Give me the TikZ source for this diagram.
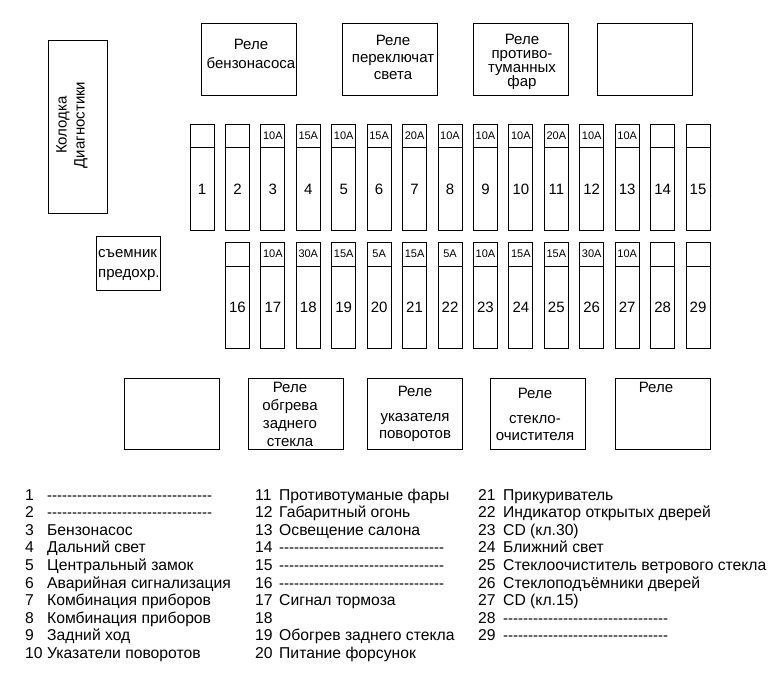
\documentclass[tikz,border=0pt]{standalone}
\usepackage{fontspec}
\setmainfont{Liberation Sans}
\usetikzlibrary{calc}
\newcommand\dashrow{{\fontsize{15}{18}\selectfont\foreach\i in {1,...,33}{-\kern0pt}}}

\tikzset{
  box/.style={draw, line width=1pt, inner sep=0pt},
  fuse/.style={box, minimum width=24pt, minimum height=106pt},
  relay/.style={box, minimum width=95pt, minimum height=71pt},
  txt/.style={inner sep=0pt, align=center, font=\fontsize{15}{18}\selectfont},
  amp/.style={inner sep=0pt, font=\fontsize{11}{13}\selectfont},
  num/.style={inner sep=0pt, font=\fontsize{15}{18}\selectfont},
  leg/.style={anchor=west, inner sep=0pt, text height=11pt, text depth=3pt, font=\fontsize{15.7}{18}\selectfont}
}

\begin{document}
\begin{tikzpicture}[x=1pt, y=-1pt]
			%%%%% START %%%%%
			\useasboundingbox (0,0) rectangle (778,685);
			
			\node[box, minimum width=59pt, minimum height=172pt] (plug) at (77.5,127) {};
			\node[txt, rotate=90] (plugtxt) at (72,125) {Колодка\\Диагностики};
			\node[box, minimum width=64pt, minimum height=54pt] (puller) at (128,263) {};
			\node[txt, align=left, anchor=west, font=\fontsize{15}{20}\selectfont] (pullertxt) at (98,265) {съемник\\предохр.};
			
			\node[relay] (r1) at (249,59.5) {};
			\node[relay] (r2) at (390,59.5) {};
			\node[relay] (r3) at (520.5,59.5) {};
			\node[relay] (r4) at (644.5,59.5) {};
			\node[txt, font=\fontsize{15}{19}\selectfont] (t1) at (251,54) {Реле\\бензонасоса};
			\node[txt, font=\fontsize{15}{17}\selectfont] (t2) at (393,57) {Реле\\переключат\\света};
			\node[txt, font=\fontsize{15}{14}\selectfont] (t3) at (522,62) {Реле\\противо-\\туманных\\фар};
			
			\node[relay] (b1) at (171.5,413.5) {};
			\node[relay] (b2) at (295.5,413.5) {};
			\node[relay] (b3) at (414.5,413.5) {};
			\node[relay] (b4) at (538,413.5) {};
			\node[relay] (b5) at (662.5,413.5) {};
			\node[txt] (t6) at (290,414) {Реле\\обгрева\\заднего\\стекла};
			\node[txt, font=\fontsize{15}{17}\selectfont] (t7) at (415,414) {Реле\\[8pt]указателя\\поворотов};
			\node[txt, font=\fontsize{15}{17}\selectfont] (t8) at (535,414) {Реле\\[8pt]стекло-\\очистителя};
			\node[txt] (t9) at (656,387) {Реле};
			
			%%%%% FUSES %%%%%
			\foreach \n/\a in {1/{},2/{},3/10A,4/15A,5/10A,6/15A,7/20A,8/10A,9/10A,10/10A,11/20A,12/10A,13/10A,14/{},15/{}}{
				\node[fuse] (f\n) at ({202+(\n-1)*35.43},177) {};
				\draw[line width=1pt] ($(f\n.north west)+(0,24)$) -- ($(f\n.north east)+(0,24)$);
				\node[amp] (a\n) at ($(f\n.north)+(0,12)$) {\a};
				\node[num] (n\n) at ($(f\n.center)+(0,12)$) {\n};
			}
			\foreach \n/\a in {16/{},17/10A,18/30A,19/15A,20/5A,21/15A,22/5A,23/10A,24/15A,25/15A,26/30A,27/10A,28/{},29/{}}{
				\node[fuse] (f\n) at ({202+(\n-15)*35.43},295.5) {};
				\draw[line width=1pt] ($(f\n.north west)+(0,24)$) -- ($(f\n.north east)+(0,24)$);
				\node[amp] (a\n) at ($(f\n.north)+(0,12)$) {\a};
				\node[num] (n\n) at ($(f\n.center)+(0,12)$) {\n};
			}
			
			%%%%% LEGEND %%%%%
			\foreach \k/\t [count=\r from 0] in {1/\dashrow,2/\dashrow,3/Бензонасос,4/Дальний свет,5/Центральный замок,6/Аварийная сигнализация,7/Комбинация приборов,8/Комбинация приборов,9/Задний ход,10/Указатели поворотов}{
				\node[leg] (ln\k) at (25,{496+\r*17.6}) {\k};
				\node[leg] (lt\k) at (47,{496+\r*17.6}) {\t};
			}
			\foreach \k/\t [count=\r from 0] in {11/Противотуманые фары,12/Габаритный огонь,13/Освещение салона,14/\dashrow,15/\dashrow,16/\dashrow,17/Сигнал тормоза,18/{},19/Обогрев заднего стекла,20/Питание форсунок}{
				\node[leg] (ln\k) at (255,{496+\r*17.6}) {\k};
				\node[leg] (lt\k) at (279,{496+\r*17.6}) {\t};
			}
			\foreach \k/\t [count=\r from 0] in {21/Прикуриватель,22/Индикатор открытых дверей,23/CD (кл.30),24/Ближний свет,25/Стеклоочиститель ветрового стекла,26/Стеклоподъёмники дверей,27/CD (кл.15),28/\dashrow,29/\dashrow}{
				\node[leg] (ln\k) at (478,{496+\r*17.6}) {\k};
				\node[leg] (lt\k) at (503,{496+\r*17.6}) {\t};
			}
			%%%%% END %%%%%
\end{tikzpicture}
\end{document}
